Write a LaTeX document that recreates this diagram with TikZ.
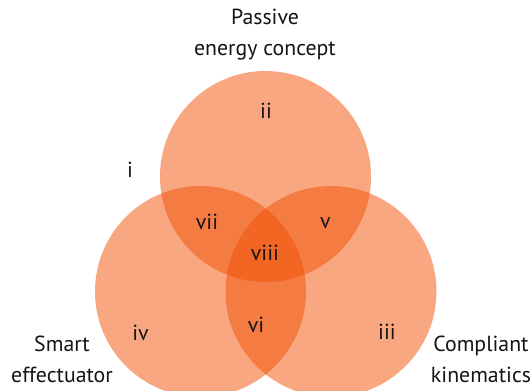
\documentclass[tikz,border=0pt]{standalone}
\usepackage{fontspec}
\setmainfont{PT Sans}
\definecolor{venn}{RGB}{241,80,4}
\definecolor{ink}{RGB}{20,20,20}
\begin{document}
\begin{tikzpicture}[x=1pt,y=-1pt,
  set/.style={circle,minimum size=211pt,inner sep=0pt,fill=venn,fill opacity=0.5,draw=none},
  lab/.style={font=\fontsize{21.8}{31}\selectfont,text=ink,align=center,inner sep=0pt},
  reg/.style={font=\fontsize{21.8}{24}\selectfont,text=ink,inner sep=0pt}]
\useasboundingbox (0,0) rectangle (531,391);
\node[set] (P) at (265.5,176.5) {};
\node[set] (S) at (200.5,291.5) {};
\node[set] (C) at (331,291.5) {};
\node[lab] (tP) at (265,34.5) {Passive\\energy concept};
\node[lab] (tS) at (62,359) {Smart\\effectuator};
\node[lab] (tC) at (481,359) {Compliant\\kinematics};
\node[reg] (r1) at (130,170) {i};
\node[reg] (r2) at (266,111) {ii};
\node[reg] (r3) at (387,331.5) {iii};
\node[reg] (r4) at (140.5,333) {iv};
\node[reg] (r5) at (325.5,223) {v};
\node[reg] (r6) at (256,325) {vi};
\node[reg] (r7) at (207,222) {vii};
\node[reg] (r8) at (265,253) {viii};
\end{tikzpicture}
\end{document}
